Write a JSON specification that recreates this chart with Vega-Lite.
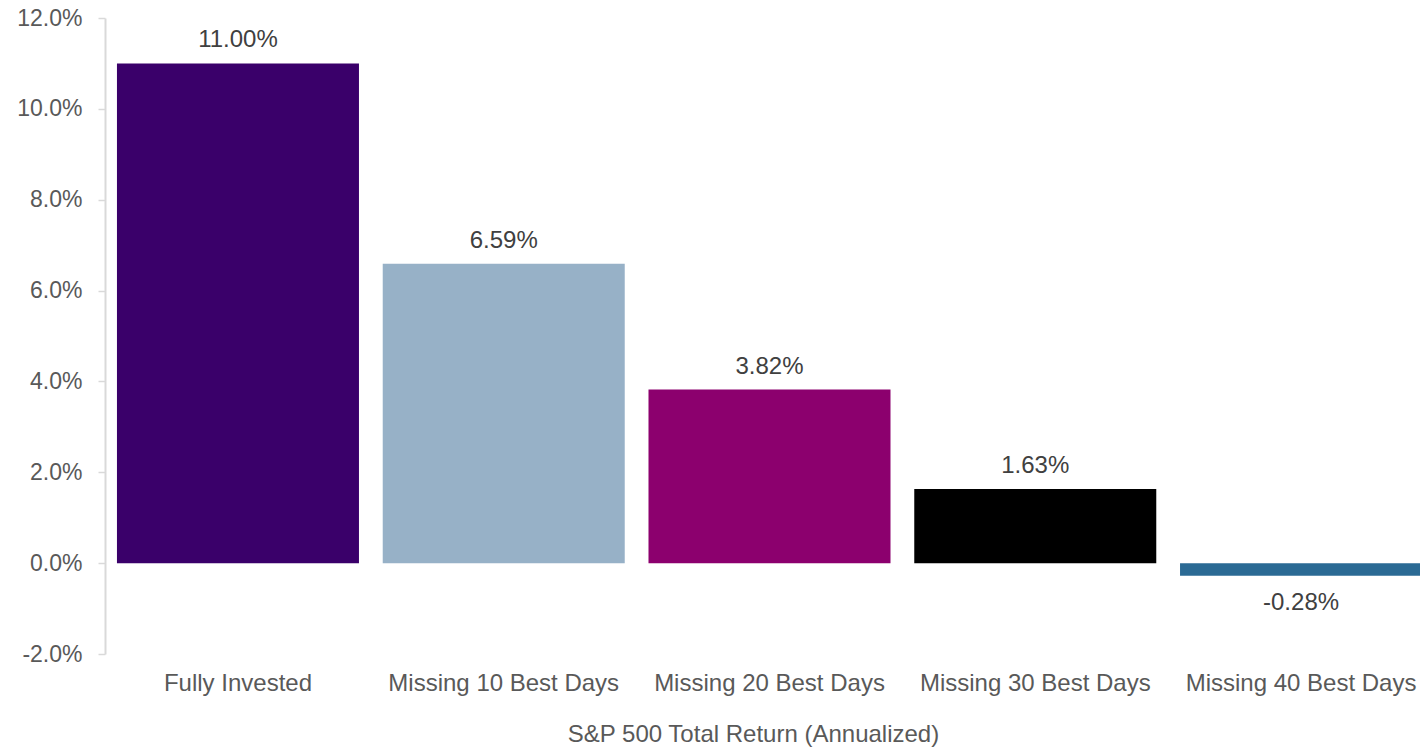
{
  "$schema": "https://vega.github.io/schema/vega-lite/v6.json",
  "autosize": "none",
  "width": 1329,
  "height": 636,
  "padding": {"left": 105, "top": 18, "right": 0, "bottom": 93},
  "background": "white",
  "config": {
    "view": {"stroke": null},
    "font": "Liberation Sans",
    "locale": {"number": {"decimal": ".", "thousands": ",", "grouping": [3], "currency": ["$", ""], "minus": "-"}}
  },
  "data": {
    "values": [
      {"category": "Fully Invested", "value": 0.11},
      {"category": "Missing 10 Best Days", "value": 0.0659},
      {"category": "Missing 20 Best Days", "value": 0.0382},
      {"category": "Missing 30 Best Days", "value": 0.0163},
      {"category": "Missing 40 Best Days", "value": -0.0028}
    ]
  },
  "encoding": {
    "x": {
      "field": "category",
      "type": "nominal",
      "sort": null,
      "scale": {"paddingInner": 0.0894, "paddingOuter": 0.045},
      "title": "S&P 500 Total Return (Annualized)",
      "axis": {
        "domain": false,
        "ticks": false,
        "labelAngle": 0,
        "labelLimit": 0,
        "labelFont": "Liberation Sans",
        "labelFontSize": 24,
        "labelColor": "#595959",
        "labelPadding": 17,
        "titleFont": "Liberation Sans",
        "titleFontSize": 24,
        "titleFontWeight": "normal",
        "titleColor": "#595959",
        "titlePadding": 27,
        "titleX": 648
      }
    }
  },
  "layer": [
    {
      "mark": {"type": "bar"},
      "encoding": {
        "y": {
          "field": "value",
          "type": "quantitative",
          "scale": {"domain": [-0.02, 0.12], "nice": false},
          "title": null,
          "axis": {
            "format": ".1%",
            "values": [-0.02, 0, 0.02, 0.04, 0.06, 0.08, 0.1, 0.12],
            "grid": false,
            "domainColor": "#d9d9d9",
            "domainWidth": 2,
            "tickColor": "#d9d9d9",
            "tickWidth": 1.5,
            "tickSize": 7,
            "labelFont": "Liberation Sans",
            "labelFontSize": 23,
            "labelColor": "#595959",
            "labelPadding": 16
          }
        },
        "color": {
          "field": "category",
          "type": "nominal",
          "sort": null,
          "scale": {
            "domain": ["Fully Invested", "Missing 10 Best Days", "Missing 20 Best Days", "Missing 30 Best Days", "Missing 40 Best Days"],
            "range": ["#3a006a", "#97b1c7", "#8c006e", "#000000", "#2b6a94"]
          },
          "legend": null
        }
      }
    },
    {
      "mark": {"type": "rule", "color": "#d9d9d9", "strokeWidth": 2},
      "encoding": {"y": {"datum": 0, "type": "quantitative"}}
    },
    {
      "transform": [{"filter": "datum.value >= 0"}],
      "mark": {"type": "text", "baseline": "alphabetic", "dy": -16, "fontSize": 24, "color": "#404040", "font": "Liberation Sans"},
      "encoding": {
        "y": {"field": "value", "type": "quantitative"},
        "text": {"field": "value", "type": "quantitative", "format": ".2%"}
      }
    },
    {
      "transform": [{"filter": "datum.value < 0"}],
      "mark": {"type": "text", "baseline": "alphabetic", "dy": 34, "fontSize": 24, "color": "#404040", "font": "Liberation Sans"},
      "encoding": {
        "y": {"field": "value", "type": "quantitative"},
        "text": {"field": "value", "type": "quantitative", "format": ".2%"}
      }
    }
  ]
}
